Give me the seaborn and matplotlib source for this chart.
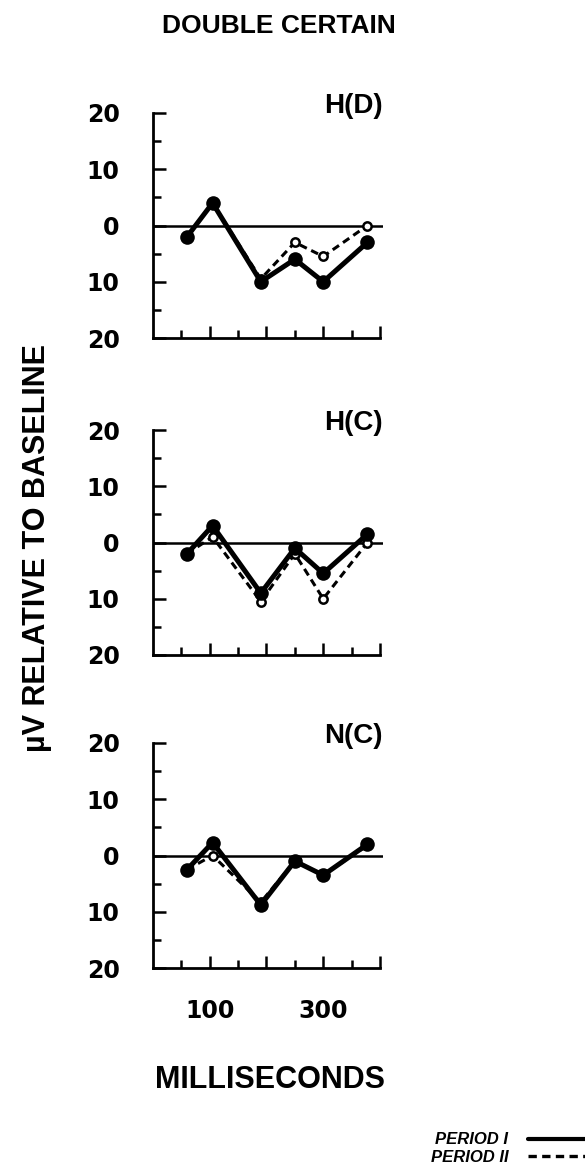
#! /usr/bin/env python
'''
Evoked potential waveforms, double certain condition
'''
# imports
from matplotlib import rcParams
from matplotlib.lines import Line2D
import matplotlib.pyplot as plt
import numpy as np
import seaborn as sns

# settings
sns.set_style("ticks")
rcParams['font.family'] = ['Liberation Sans', 'DejaVu Sans']
rcParams['font.weight'] = 'bold'
for key in ['text.color', 'axes.labelcolor', 'xtick.color', 'ytick.color', 'axes.edgecolor']:
    rcParams[key] = 'black'

# DATA (latency in ms, amplitude in microvolts relative to baseline)
latency = [60, 105, 190, 250, 300, 378]

hd_period1 = [-2, 4, -10, -6, -10, -3]
hd_period2 = [-2, 4, -9.5, -3, -5.5, 0]

hc_period1 = [-2, 3, -9, -1, -5.5, 1.5]
hc_period2 = [-2, 1, -10.5, -2, -10, 0]

nc_period1 = [-2.5, 2.3, -8.8, -1, -3.5, 2]
nc_period2 = [-2.5, 0, -8.3, -1, -3.5, 1.8]

panel_names = ['H(D)', 'H(C)', 'N(C)']
y_ticks = [-20, -10, 0, 10, 20]
y_labels = ['20', '10', '0', '10', '20']
y_minor = [-15, -5, 5, 15]
x_ticks = [100, 200, 300, 400]
x_labels = ['100', '', '300', '']
x_minor = [50, 150, 250, 350]

panels = [(hd_period1, hd_period2), (hc_period1, hc_period2), (nc_period1, nc_period2)]

# figure
W, H = 585, 1172
fig = plt.figure(figsize=(W / 100, H / 100), dpi=100)

tops = [113, 430, 743]   # pixel rows of the +20 line
ax_h = 225
left = 153
ax_w = 229.8

dash = (0, (2.5, 1.6))

for i, ((p1, p2), name) in enumerate(zip(panels, panel_names)):
    bottom = 1 - (tops[i] + ax_h) / H
    ax = fig.add_axes([left / W, bottom, ax_w / W, ax_h / H])
    ax.axhline(0, color='black', lw=1.8, zorder=1)
    sns.lineplot(x=latency, y=p2, ax=ax, color='black', lw=2.2, linestyle=dash,
                 marker='o', markersize=6, markerfacecolor='white',
                 markeredgecolor='black', markeredgewidth=1.8, zorder=2)
    sns.lineplot(x=latency, y=p1, ax=ax, color='black', lw=3.6,
                 marker='o', markersize=10.5, markerfacecolor='black',
                 markeredgecolor='black', markeredgewidth=0, zorder=3)
    ax.set_xlim(0, 405)
    ax.set_ylim(-20, 20)
    sns.despine(ax=ax)
    ax.spines['left'].set_linewidth(2)
    ax.spines['bottom'].set_linewidth(2)
    ax.spines['bottom'].set_bounds(0, 400)

    ax.set_yticks(y_ticks)
    ax.set_yticklabels(y_labels)
    ax.set_yticks(y_minor, minor=True)
    ax.set_xticks(x_ticks)
    ax.set_xticks(x_minor, minor=True)
    if i == 2:
        ax.set_xticklabels(x_labels)
    else:
        ax.set_xticklabels([])
    ax.tick_params(axis='both', which='major', direction='in', length=9, width=1.8,
                   labelsize=17, labelfontfamily='DejaVu Sans')
    ax.tick_params(axis='both', which='minor', direction='in', length=5.5, width=1.8)
    ax.tick_params(axis='y', which='major', pad=24)
    ax.tick_params(axis='x', which='major', pad=22)
    for lab in ax.get_xticklabels() + ax.get_yticklabels():
        lab.set_fontweight('bold')
    ax.set_xlabel('')
    ax.set_ylabel('')
    ax.text(1.0, 1.0, name, transform=ax.transAxes, ha='right', va='baseline',
            fontsize=20, fontweight='bold')

fig.text(279 / W, 1 - 26 / H, 'DOUBLE CERTAIN', ha='center', va='center',
         fontsize=19, fontweight='bold')
fig.text(37 / W, 1 - 548 / H, 'µV RELATIVE TO BASELINE', rotation=90,
         ha='center', va='center', fontsize=22, fontweight='bold')
fig.text(270 / W, 1 - 1080 / H, 'MILLISECONDS', ha='center', va='center',
         fontsize=22, fontweight='bold')

handles = [Line2D([], [], color='black', lw=3.0),
           Line2D([], [], color='black', lw=2.4, linestyle=dash)]
fig.legend(handles=handles, labels=['PERIOD I', 'PERIOD II'], loc='lower right',
           bbox_to_anchor=(1.0, 0.006), frameon=False, markerfirst=False,
           handlelength=3.4, handletextpad=1.2, labelspacing=0.15,
           borderpad=0, borderaxespad=0,
           prop=dict(family='Liberation Sans', weight='bold', style='italic', size=12))

fig.savefig('out.png', dpi=100)
plt.close()
